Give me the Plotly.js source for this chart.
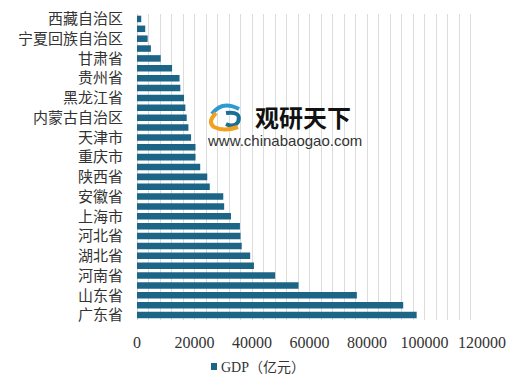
<!DOCTYPE html>
<html>
<head>
<meta charset="utf-8">
<script src="https://cdn.plot.ly/plotly-3.0.1.min.js"></script>
<style>html,body{margin:0;padding:0;background:#fff;}#chart{width:520px;height:385px;}</style>
</head>
<body>
<div id="chart"></div>
<script>
// 2018 GDP by province (亿元), bottom to top
const provinces = ["广东省","江苏省","山东省","浙江省","河南省","四川省","湖北省","湖南省","河北省","福建省",
  "上海市","北京市","安徽省","辽宁省","陕西省","江西省","重庆市","广西壮族自治区","天津市","云南省",
  "内蒙古自治区","山西省","黑龙江省","吉林省","贵州省","新疆维吾尔自治区","甘肃省","海南省","宁夏回族自治区","青海省","西藏自治区"];
const gdp = [97278,92595,76470,56197,48056,40678,39367,36426,36010,35804,
  32680,30320,30007,25315,24438,21985,20363,20353,18810,17881,
  17289,16818,16362,15075,14806,12199,8246,4832,3705,2865,1478];
const seriesName = "GDP（亿元）";
const xTicks = [0,20000,40000,60000,80000,100000,120000];

const labeled = provinces.filter((p,i)=>i%2===0);
const serifFam = "Liberation Serif, Noto Sans CJK SC, serif";
const barColor = "#1c6587";

// plot area in pixels: left 137, right 482, top 14, bottom 320
const PL = 137, PR = 482, PT = 14, PB = 320;
const px = x => ((x - PL) / (PR - PL)).toFixed(4);
const py = y => ((PB - y) / (PB - PT)).toFixed(4);
function pathPx(cmds) {
  return cmds.map(c => c[0] + " " + c.slice(1).map((v,i)=> i%2===0 ? px(v) : py(v)).join(" ")).join(" ");
}

const trace = {
  type: "bar", orientation: "h",
  y: provinces, x: gdp, name: seriesName,
  marker: {color: barColor},
  hoverinfo: "none", showlegend: false
};

const layout = {
  width: 520, height: 385,
  margin: {l: PL, r: 520 - PR, t: PT, b: 385 - PB, autoexpand: false},
  paper_bgcolor: "#fff", plot_bgcolor: "#fff",
  bargap: 0.34,
  showlegend: false,
  font: {family: serifFam, color: "#333"},
  xaxis: {
    range: [0, 120000], tickvals: xTicks, ticktext: xTicks.map(String),
    showgrid: true, gridcolor: "#dcdcdc", gridwidth: 1,
    minor: {dtick: 4000, showgrid: true, gridcolor: "#dcdcdc", gridwidth: 1},
    zeroline: true, zerolinecolor: "#d4d4d4",
    ticks: "", ticklabelstandoff: 11,
    tickfont: {family: serifFam, size: 16, color: "#333"},
    showline: false, fixedrange: true, automargin: false
  },
  yaxis: {
    type: "category", categoryorder: "array", categoryarray: provinces,
    tickvals: labeled, ticktext: labeled,
    ticks: "", ticklabelstandoff: 13,
    tickfont: {family: "Noto Sans CJK SC, sans-serif", size: 15, color: "#333"},
    showgrid: false, showline: false, zeroline: false, fixedrange: true, automargin: false
  },
  annotations: [
    {xref: "paper", yref: "paper", x: px(253), y: py(117), xanchor: "left", yanchor: "middle",
      text: "<b>观研天下</b>", showarrow: false,
      font: {family: "Noto Sans CJK SC, sans-serif", size: 24, color: "#111"}},
    {xref: "paper", yref: "paper", x: px(205), y: py(141), xanchor: "left", yanchor: "middle",
      text: "www.chinabaogao.com", showarrow: false,
      font: {family: "Liberation Sans, Arial, sans-serif", size: 15, color: "#333"}},
    // legend text
    {xref: "paper", yref: "paper", x: px(219), y: py(367), xanchor: "left", yanchor: "middle",
      text: seriesName, showarrow: false,
      font: {family: serifFam, size: 14, color: "#333"}}
  ],
  shapes: [
    // legend swatch
    {type: "rect", xref: "paper", yref: "paper", x0: px(211), x1: px(217), y0: py(370), y1: py(363),
      fillcolor: barColor, line: {width: 0}},
    // logo: light blue arc
    {type: "path", xref: "paper", yref: "paper",
      path: pathPx([["M",212,114],["Q",222,100,239,109]]),
      line: {color: "#2d9bd2", width: 4}},
    // logo: dark teal swirl
    {type: "path", xref: "paper", yref: "paper",
      path: pathPx([["M",226,113],["Q",242,111,238,122],["Q",234,128,226,124]]),
      line: {color: "#1b6f95", width: 4}},
    // logo: orange arc
    {type: "path", xref: "paper", yref: "paper",
      path: pathPx([["M",216,113],["Q",207,122,214,127],["Q",224,132,238,127]]),
      line: {color: "#f2a11f", width: 4}}
  ]
};

Plotly.newPlot("chart", [trace], layout, {displayModeBar: false, staticPlot: true});
</script>
</body>
</html>
